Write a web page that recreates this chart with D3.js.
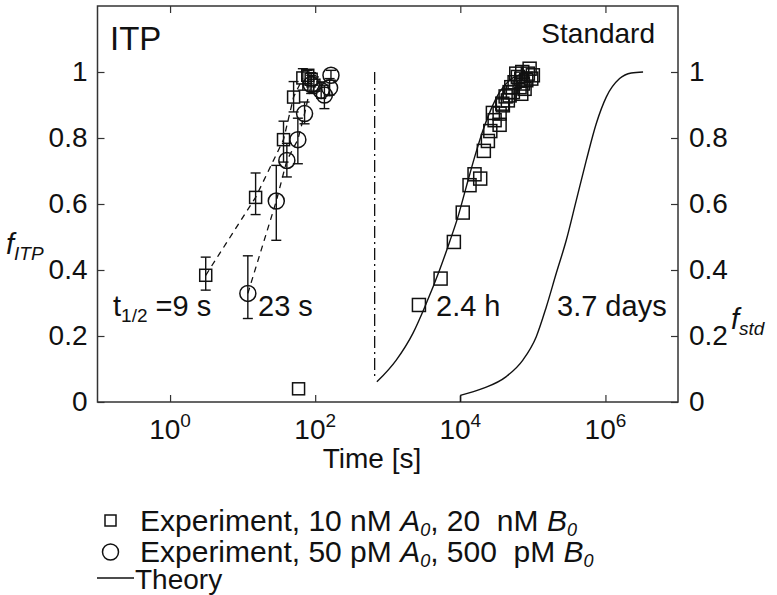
<!DOCTYPE html>
<html><head><meta charset="utf-8">
<script src="https://cdn.jsdelivr.net/npm/d3@7"></script>
<style>
html,body{margin:0;padding:0;background:#fff;}
svg text{font-family:"Liberation Sans",Arial,Helvetica,sans-serif;fill:#111;}
</style></head>
<body>
<svg id="chart" width="777" height="595"></svg>
<script>
// ---------------- data ----------------
const xTicks = [1, 100, 1e4, 1e6];
const xTickExponents = ["0", "2", "4", "6"];
const yTicks = [0, 0.2, 0.4, 0.6, 0.8, 1];
const yTickLabels = ["0", "0.2", "0.4", "0.6", "0.8", "1"];

// ITP experiment, 10 nM A0 / 20 nM B0 : [time s, f, low, high]
const itpSquares = [
  [3.1, 0.384, 0.339, 0.439],
  [15.1, 0.620, 0.568, 0.694],
  [36.6, 0.795, 0.727, 0.851],
  [50.4, 0.924, 0.879, 0.971],
  [67.6, 0.982, 0.945, 1.010],
  [79, 0.990, 0.965, 1.005],
  [88, 0.978, 0.955, 0.998],
  [96, 0.960, 0.940, 0.985]
];
const itpSquareOutlier = [[59, 0.040]];

// ITP experiment, 50 pM A0 / 500 pM B0 : [time s, f, low, high]
const itpCircles = [
  [11.8, 0.329, 0.253, 0.443],
  [29.1, 0.609, 0.490, 0.717],
  [40.7, 0.732, 0.682, 0.784],
  [57.7, 0.795, 0.722, 0.860],
  [71.4, 0.874, 0.843, 0.909],
  [88, 0.962, 0.935, 0.990],
  [121, 0.944, 0.920, 0.970],
  [134, 0.930, 0.889, 0.960],
  [158, 0.952, 0.930, 0.980],
  [165, 0.990, 0.975, 1.005]
];

// standard (no ITP) experiment, 10 nM A0 : [time s, f]
const stdSquares = [
  [2690, 0.294], [5350, 0.374], [8150, 0.485], [10800, 0.574], [13400, 0.657],
  [15700, 0.690], [18800, 0.677], [21100, 0.761], [24000, 0.791], [25900, 0.821],
  [28100, 0.876], [29700, 0.854], [34800, 0.840], [34800, 0.874], [37900, 0.904],
  [38600, 0.899], [42100, 0.926], [45200, 0.914], [47800, 0.939], [47800, 0.929],
  [50400, 0.954], [53000, 0.939], [56000, 0.969], [59000, 0.995], [62100, 0.985],
  [65600, 0.954], [69200, 0.980], [69200, 0.934], [71400, 1.000], [72800, 0.965],
  [76900, 0.949], [81100, 0.975], [85300, 0.995], [90200, 1.010], [95100, 0.980],
  [100000, 0.990]
];

const theoryStd10nM = [
  [708, 0.061], [1310, 0.127], [2220, 0.208], [3400, 0.299], [5180, 0.400],
  [7110, 0.485], [9270, 0.561], [12080, 0.652], [15740, 0.742], [20470, 0.823],
  [26730, 0.889], [34760, 0.939], [47750, 0.975], [72780, 0.995], [100000, 1.000]
];
const theoryStd50pMStart = [[10000, 0], [10000, 0.02]];
const theoryStd50pM = [
  [10000, 0.020], [20470, 0.041], [42950, 0.077], [72780, 0.127], [111400, 0.198],
  [153100, 0.288], [209900, 0.390], [288400, 0.490], [396300, 0.611], [544500, 0.732],
  [748200, 0.844], [1026000, 0.924], [1567000, 0.980], [2270000, 0.997], [3300000, 1.000]
];
const separatorTime = 660;
const separatorRange = [0.07, 1.0];

// ---------------- layout ----------------
const svg = d3.select("#chart");
const L = 97.5, R = 678, T = 6, B = 402;
const x = d3.scaleLog().domain([0.1, 1e7]).range([L, R]);
const y = d3.scaleLinear().domain([0, 1.2]).range([B, T]);
const ink = "#111";

// frame
svg.append("rect").attr("x", L).attr("y", T).attr("width", R - L).attr("height", B - T)
  .attr("fill", "none").attr("stroke", "#333").attr("stroke-width", 1.5);

// axes with inward ticks
function styleAxis(g) {
  g.select(".domain").remove();
  g.selectAll(".tick line").attr("stroke", "#333").attr("stroke-width", 1.2);
  g.selectAll(".tick text").attr("font-size", 28).attr("fill", ink)
    .attr("font-family", '"Liberation Sans",Arial,sans-serif');
}
svg.append("g").attr("transform", `translate(0,${B})`)
  .call(d3.axisBottom(x).tickValues(xTicks).tickSize(-7).tickFormat(() => ""))
  .call(styleAxis);
svg.append("g").attr("transform", `translate(0,${T})`)
  .call(d3.axisTop(x).tickValues(xTicks).tickSize(-7).tickFormat(() => ""))
  .call(styleAxis);
svg.append("g").attr("transform", `translate(${L},0)`)
  .call(d3.axisLeft(y).tickValues(yTicks).tickSize(-7).tickPadding(10)
    .tickFormat((d, i) => yTickLabels[i]))
  .call(styleAxis);
svg.append("g").attr("transform", `translate(${R},0)`)
  .call(d3.axisRight(y).tickValues(yTicks).tickSize(-7).tickPadding(11)
    .tickFormat((d, i) => yTickLabels[i]))
  .call(styleAxis);

// x tick labels 10^n
xTicks.forEach((t, i) => {
  const tx = svg.append("text").attr("x", x(t)).attr("y", 439)
    .attr("text-anchor", "middle").attr("font-size", 28);
  tx.append("tspan").text("10");
  tx.append("tspan").attr("dy", -12).attr("font-size", 19).text(xTickExponents[i]);
});

// axis titles
svg.append("text").attr("x", 372).attr("y", 468).attr("text-anchor", "middle")
  .attr("font-size", 28).text("Time [s]");
const yl = svg.append("text").attr("x", 6).attr("y", 254).attr("font-size", 29);
yl.append("tspan").attr("font-style", "italic").text("f");
yl.append("tspan").attr("font-style", "italic").attr("font-size", 19).attr("dy", 6).text("ITP");
const yr = svg.append("text").attr("x", 731).attr("y", 329).attr("font-size", 29);
yr.append("tspan").attr("font-style", "italic").text("f");
yr.append("tspan").attr("font-style", "italic").attr("font-size", 19).attr("dy", 6).text("std");

// panel labels
svg.append("text").attr("x", 110).attr("y", 50).attr("font-size", 33).text("ITP");
svg.append("text").attr("x", 655).attr("y", 43).attr("text-anchor", "end")
  .attr("font-size", 28).text("Standard");

// separator dash-dot
svg.append("line").attr("x1", x(separatorTime)).attr("x2", x(separatorTime))
  .attr("y1", y(separatorRange[1])).attr("y2", y(separatorRange[0]))
  .attr("stroke", ink).attr("stroke-width", 1.3).attr("stroke-dasharray", "12,4,2,4");

// theory curves
const line = d3.line().x(d => x(d[0])).y(d => y(d[1]));
const smooth = d3.line().x(d => x(d[0])).y(d => y(d[1])).curve(d3.curveMonotoneX);
[theoryStd10nM, theoryStd50pM].forEach(c => {
  svg.append("path").attr("d", smooth(c)).attr("fill", "none")
    .attr("stroke", ink).attr("stroke-width", 1.4);
});
svg.append("path").attr("d", line(theoryStd50pMStart)).attr("fill", "none")
  .attr("stroke", ink).attr("stroke-width", 1.2);

// dashed connectors in ITP panel
const dashSq = itpSquares.slice(0, 5);
const dashCi = itpCircles.slice(0, 6);
[dashSq, dashCi].forEach(c => {
  svg.append("path").attr("d", line(c)).attr("fill", "none")
    .attr("stroke", ink).attr("stroke-width", 1.3).attr("stroke-dasharray", "6,5");
});

// error bars
function errorBars(data) {
  const g = svg.append("g").attr("stroke", ink).attr("stroke-width", 1.4).attr("fill", "none");
  data.forEach(d => {
    const cx = x(d[0]);
    g.append("line").attr("x1", cx).attr("x2", cx).attr("y1", y(d[2])).attr("y2", y(d[3]));
    g.append("line").attr("x1", cx - 5).attr("x2", cx + 5).attr("y1", y(d[2])).attr("y2", y(d[2]));
    g.append("line").attr("x1", cx - 5).attr("x2", cx + 5).attr("y1", y(d[3])).attr("y2", y(d[3]));
  });
}
errorBars(itpSquares);
errorBars(itpCircles);

// markers
function squares(data, s) {
  svg.append("g").selectAll("rect").data(data).join("rect")
    .attr("x", d => x(d[0]) - s / 2).attr("y", d => y(d[1]) - s / 2)
    .attr("width", s).attr("height", s)
    .attr("fill", "none").attr("stroke", ink).attr("stroke-width", 1.5);
}
function circles(data, r) {
  svg.append("g").selectAll("circle").data(data).join("circle")
    .attr("cx", d => x(d[0])).attr("cy", d => y(d[1])).attr("r", r)
    .attr("fill", "none").attr("stroke", ink).attr("stroke-width", 1.5);
}
squares(itpSquares, 12);
squares(itpSquareOutlier, 12);
circles(itpCircles, 8);
squares(stdSquares, 13);

// half-time annotations
const a1 = svg.append("text").attr("x", 113).attr("y", 316).attr("font-size", 29);
a1.append("tspan").text("t");
a1.append("tspan").attr("font-size", 19).attr("dy", 6).text("1/2");
a1.append("tspan").attr("dy", -6).text(" =9 s");
svg.append("text").attr("x", 258).attr("y", 316).attr("font-size", 29).text("23 s");
svg.append("text").attr("x", 436).attr("y", 316).attr("font-size", 29).text("2.4 h");
svg.append("text").attr("x", 557).attr("y", 316).attr("font-size", 29).text("3.7 days");

// legend: each run is its own text element so subscripts do not widen row boxes
function legendRow(yb, parts) {
  let cx = 140;
  parts.forEach(p => {
    const t = svg.append("text").attr("x", cx).attr("y", yb + (p.sub ? 5 : 0))
      .attr("font-size", p.sub ? 18 : 30).attr("xml:space", "preserve")
      .attr("font-style", p.it ? "italic" : "normal").text(p.s);
    cx += t.node().getComputedTextLength();
  });
}
svg.append("rect").attr("x", 105).attr("y", 515).attr("width", 11).attr("height", 11)
  .attr("fill", "none").attr("stroke", ink).attr("stroke-width", 1.5);
legendRow(531, [{s: "Experiment, 10 nM\u00A0"}, {s: "A", it: 1}, {s: "0", it: 1, sub: 1},
  {s: ", 20\u00A0 nM\u00A0"}, {s: "B", it: 1}, {s: "0", it: 1, sub: 1}]);
svg.append("circle").attr("cx", 110.5).attr("cy", 552).attr("r", 8)
  .attr("fill", "none").attr("stroke", ink).attr("stroke-width", 1.5);
legendRow(562, [{s: "Experiment, 50 pM\u00A0"}, {s: "A", it: 1}, {s: "0", it: 1, sub: 1},
  {s: ", 500\u00A0 pM\u00A0"}, {s: "B", it: 1}, {s: "0", it: 1, sub: 1}]);
svg.append("line").attr("x1", 97).attr("x2", 134).attr("y1", 578).attr("y2", 578)
  .attr("stroke", ink).attr("stroke-width", 1.5);
svg.append("text").attr("x", 135).attr("y", 589).attr("font-size", 28).text("Theory");
</script>
</body></html>
